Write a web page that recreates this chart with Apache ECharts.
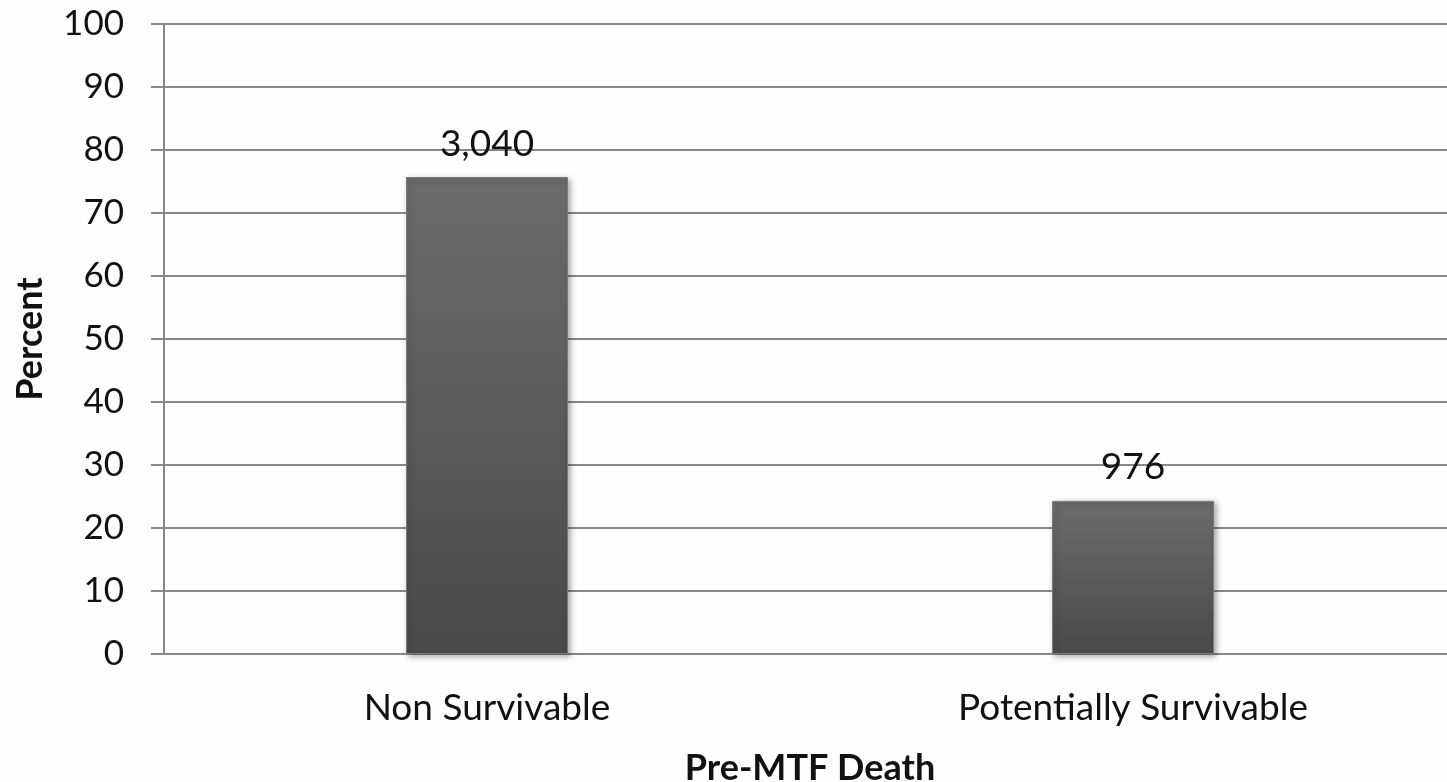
<!DOCTYPE html>
<html>
<head>
<meta charset="utf-8">
<script src="https://cdn.jsdelivr.net/npm/echarts@6/dist/echarts.min.js"></script>
<style>
  html, body { margin: 0; padding: 0; background: #fff; }
  #main { width: 1447px; height: 782px; }
</style>
</head>
<body>
<div id="main"></div>
<script>
const categories = ['Non Survivable', 'Potentially Survivable'];
const percents = [75.7, 24.3];
const counts = ['3,040', '976'];
const yTicks = [0, 10, 20, 30, 40, 50, 60, 70, 80, 90, 100];

const chart = echarts.init(document.getElementById('main'));
const font = 'Lato, "Open Sans", sans-serif';

const option = {
  backgroundColor: '#fefefe',
  animation: false,
  // plot area runs past the right edge of the picture, as in the original slide
  grid: { left: 164, width: 1292, top: 24, height: 630, outerBoundsMode: 'none' },
  xAxis: {
    type: 'category',
    data: categories,
    name: 'Pre-MTF Death',
    nameLocation: 'middle',
    nameGap: 96,
    nameTextStyle: { fontFamily: font, fontSize: 36, fontWeight: 'bold', color: '#111' },
    axisLine: { lineStyle: { color: '#888', width: 2 } },
    axisTick: { show: false },
    axisLabel: { margin: 36, fontFamily: font, fontSize: 37, color: '#111' }
  },
  yAxis: {
    type: 'value',
    min: 0,
    max: 100,
    interval: 10,
    name: 'Percent',
    nameLocation: 'middle',
    nameGap: 116,
    nameTextStyle: { fontFamily: font, fontSize: 36, fontWeight: 'bold', color: '#111' },
    axisLine: { show: true, lineStyle: { color: '#888', width: 2 } },
    axisTick: { show: true, length: 13, lineStyle: { color: '#888', width: 2 } },
    splitLine: { lineStyle: { color: '#888', width: 2 } },
    axisLabel: {
      margin: 40,
      fontFamily: font,
      fontSize: 35,
      color: '#111',
      formatter: v => (yTicks.includes(v) ? String(v) : '')
    }
  },
  series: [{
    type: 'bar',
    data: percents,
    barWidth: 162,
    itemStyle: {
      color: new echarts.graphic.LinearGradient(0, 0, 0, 1, [
        { offset: 0, color: '#6c6c6c' },
        { offset: 1, color: '#494949' }
      ]),
      borderColor: '#7a7a7a',
      borderWidth: 1,
      shadowColor: 'rgba(0,0,0,0.35)',
      shadowBlur: 6,
      shadowOffsetX: 2,
      shadowOffsetY: 2
    },
    label: {
      show: true,
      position: 'top',
      distance: 15,
      fontFamily: font,
      fontSize: 37,
      color: '#111',
      formatter: p => counts[p.dataIndex]
    }
  }]
};

chart.setOption(option);
</script>
</body>
</html>
